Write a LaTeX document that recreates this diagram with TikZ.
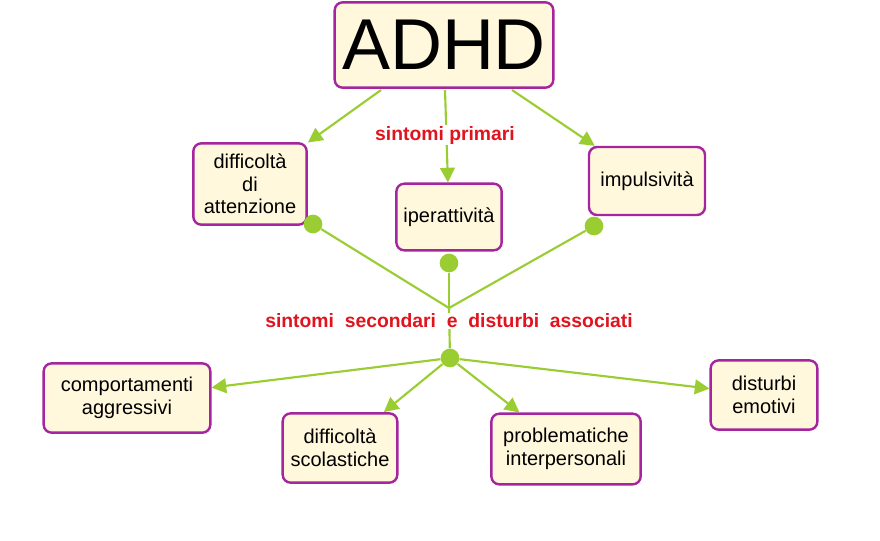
\documentclass[tikz,border=0pt]{standalone}
\usepackage{fontspec}
\setmainfont{Liberation Sans}
\usetikzlibrary{arrows.meta, positioning}
\definecolor{boxfill}{HTML}{FFF8DC}
\definecolor{boxline}{HTML}{A4259E}
\definecolor{linkgreen}{HTML}{9ACD32}
\definecolor{labred}{HTML}{E0141E}
\tikzset{
  concept/.style={draw=boxline, fill=boxfill, line width=1.8pt, rounded corners=6pt,
    align=center, font=\fontsize{15}{17}\selectfont, inner sep=4pt},
  link/.style={draw=linkgreen, line width=1.6pt},
  arr/.style={link, -{Triangle[length=11pt,width=11pt]}},
  dot/.style={circle, fill=linkgreen, inner sep=0pt, minimum size=14pt},
  lab/.style={text=labred, fill=white, inner sep=1pt, font=\bfseries\fontsize{14.5}{16}\selectfont}
}
\begin{document}
\begin{tikzpicture}[x=0.75pt, y=-0.75pt]
        \useasboundingbox (0,0) rectangle (880,540);

        \node[concept, minimum width=164pt, minimum height=64pt, font=\fontsize{54}{58}\selectfont] (adhd) at (444,45) {ADHD};
        \node[concept, minimum width=85pt, minimum height=61pt] (att) at (250,184) {difficoltà\\di\\attenzione};
        \node[concept, minimum width=79pt, minimum height=50pt] (iper) at (449,217) {iperattività};
        \node[concept, minimum width=87pt, minimum height=51pt] (imp) at (647,181) {impulsività};
        \node[concept, minimum width=125pt, minimum height=52pt] (aggr) at (127,398) {comportamenti\\aggressivi};
        \node[concept, minimum width=86pt, minimum height=52pt] (scol) at (340,448) {difficoltà\\scolastiche};
        \node[concept, minimum width=112pt, minimum height=53pt] (inter) at (566,449) {problematiche\\interpersonali};
        \node[concept, minimum width=80pt, minimum height=52pt] (emo) at (764,395) {disturbi\\emotivi};

        \node[dot] (d1) at (313,224) {};
        \node[dot] (d2) at (449,263) {};
        \node[dot] (d3) at (594,226) {};
        \node[dot] (hub) at (450,358) {};
        \coordinate (meet) at (449,308);

        % primary symptoms
        \draw[arr] (381,90) -- (att);
        \draw[arr] (445,90) -- (iper);
        \draw[arr] (512,90) -- (imp);

        % secondary symptoms
        \draw[link] (d1) -- (meet);
        \draw[link] (d2) -- (meet);
        \draw[link] (d3) -- (meet);
        \draw[link] (meet) -- (hub);

        \node[lab] (prim) at (445,135) {sintomi primari};
        \node[lab] (sec) at (449,321) {sintomi\ \ secondari\ \ e\ \ disturbi\ \ associati};

        \draw[arr] (hub) -- (aggr);
        \draw[arr] (hub) -- (scol);
        \draw[arr] (hub) -- (inter);
        \draw[arr] (hub) -- (emo);
\end{tikzpicture}
\end{document}
